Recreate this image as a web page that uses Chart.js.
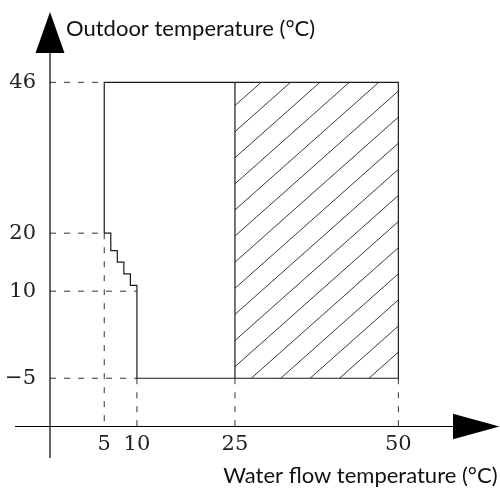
<!DOCTYPE html>
<html><head><meta charset="utf-8">
<script src="https://cdn.jsdelivr.net/npm/chart.js@4"></script>
<style>html,body{margin:0;padding:0;background:#fff}#wrap{width:500px;height:490px;position:relative}</style>
</head><body><div id="wrap"><canvas id="c"></canvas></div>
<script>
// ---- data ----
const xTickValues = [5, 10, 25, 50];
const xTickLabels = ['5', '10', '25', '50'];
const yTickValues = [-5, 10, 20, 46];
const yTickLabels = ['\u22125', '10', '20', '46'];
// operating envelope outline (stepped, horizontal-first)
const envelopeX = [5, 6, 7, 8, 9, 10, 50, 50, 5, 5];
const envelopeY = [20, 17, 15, 13, 11, -5, -5, 46, 46, 20];
// hatched sub-area (x range, y range)
const hatchX = [25, 50];
const hatchY = [-5, 46];
// dashed guides: horizontal guides end at these x values
const guideHY = [46, 20, 10, -5];
const guideHEndX = [5, 5, 10, 10];
// vertical guides start at these y values and run down to the x axis
const guideVX = [5, 10, 25, 50];
const guideVStartY = [20, -5, -5, -5];
const xTitle = 'Water flow temperature (°C)';
const yTitle = 'Outdoor temperature (°C)';

// ---- scale extents (axes cross below/left of the data) ----
const X_MIN = -3.3, X_MAX = 65.55;
const Y_MIN = -13.32, Y_MAX = 58.12;

const LINE = '#1a1a1a';

const datasets = [];
datasets.push({
  data: envelopeX.map((x, i) => ({x, y: envelopeY[i]})),
  stepped: 'before', borderColor: LINE, borderWidth: 1.2, pointRadius: 0, fill: false
});
datasets.push({
  data: hatchY.map(y => ({x: hatchX[0], y})),
  borderColor: LINE, borderWidth: 1.2, pointRadius: 0, fill: false
});
guideHY.forEach((y, i) => datasets.push({
  data: [{x: X_MIN, y}, {x: guideHEndX[i], y}],
  borderColor: '#333', borderWidth: 1, borderDash: [6, 8], pointRadius: 0, fill: false
}));
guideVX.forEach((x, i) => datasets.push({
  data: [{x, y: guideVStartY[i]}, {x, y: Y_MIN}],
  borderColor: '#333', borderWidth: 1, borderDash: [6, 8], pointRadius: 0, fill: false
}));

const HATCH_STEP = 4.5, HATCH_PHASE = 17;

const schematic = {
  id: 'schematic',
  beforeDatasetsDraw(chart) {
    const {ctx} = chart, xs = chart.scales.x, ys = chart.scales.y;
    const l = xs.getPixelForValue(hatchX[0]), r = xs.getPixelForValue(hatchX[1]);
    const t = ys.getPixelForValue(hatchY[1]), b = ys.getPixelForValue(hatchY[0]);
    ctx.save();
    ctx.beginPath(); ctx.rect(l, t, r - l, b - t); ctx.clip();
    ctx.strokeStyle = '#222'; ctx.lineWidth = 0.9;
    ctx.beginPath();
    for (let c = HATCH_PHASE; c > hatchY[0] - hatchX[1]; c -= HATCH_STEP) {
      ctx.moveTo(xs.getPixelForValue(hatchX[0]), ys.getPixelForValue(hatchX[0] + c));
      ctx.lineTo(xs.getPixelForValue(hatchX[1]), ys.getPixelForValue(hatchX[1] + c));
    }
    ctx.stroke();
    ctx.restore();
  },
  afterDraw(chart) {
    const {ctx, chartArea: a} = chart;
    const ax = a.left, ay = a.bottom;
    ctx.save();
    ctx.strokeStyle = '#000'; ctx.fillStyle = '#000'; ctx.lineWidth = 1.2;
    ctx.beginPath();
    ctx.moveTo(ax, a.top + 20); ctx.lineTo(ax, ay + 31.5);
    ctx.moveTo(ax - 35, ay); ctx.lineTo(a.right - 20, ay);
    ctx.stroke();
    // y arrow
    ctx.beginPath();
    ctx.moveTo(ax, a.top); ctx.lineTo(ax + 14.5, a.top + 41); ctx.lineTo(ax - 14.5, a.top + 41); ctx.closePath(); ctx.fill();
    // x arrow
    ctx.beginPath();
    ctx.moveTo(a.right - 0.5, ay); ctx.lineTo(a.right - 47, ay - 12.7); ctx.lineTo(a.right - 47, ay + 12.7); ctx.closePath(); ctx.fill();
    // titles
    ctx.fillStyle = '#111';
    ctx.font = '22px Lato';
    ctx.textBaseline = 'alphabetic';
    ctx.textAlign = 'left';
    ctx.fillText(yTitle, 66, 35.5);
    ctx.textAlign = 'right';
    ctx.fillText(xTitle, 497.5, 483);
    ctx.restore();
  }
};

const tickFont = {family: 'DejaVu Serif', size: 21};
const noPad = s => { s.paddingTop = 0; s.paddingBottom = 0; s.paddingLeft = 0; s.paddingRight = 0; };

new Chart(document.getElementById('c'), {
  type: 'scatter',
  data: {datasets},
  options: {
    responsive: true, maintainAspectRatio: false, animation: false,
    showLine: true,
    layout: {padding: {top: 12, left: 0, right: 0, bottom: 0}},
    plugins: {legend: {display: false}, tooltip: {enabled: false}, title: {display: false}},
    scales: {
      x: {
        type: 'linear', min: X_MIN, max: X_MAX,
        grid: {display: false}, border: {display: false},
        afterBuildTicks: s => { s.ticks = xTickValues.map(v => ({value: v})); },
        afterFit: s => { s.height = 63.5; noPad(s); },
        ticks: {autoSkip: false, maxRotation: 0, padding: -3, font: tickFont, color: '#222',
          callback: v => xTickLabels[xTickValues.indexOf(v)]}
      },
      y: {
        type: 'linear', min: Y_MIN, max: Y_MAX,
        grid: {display: false}, border: {display: false},
        afterBuildTicks: s => { s.ticks = yTickValues.map(v => ({value: v})); },
        afterFit: s => { s.width = 50; noPad(s); },
        ticks: {autoSkip: false, padding: 6, font: tickFont, color: '#222',
          callback: v => yTickLabels[yTickValues.indexOf(v)]}
      }
    }
  },
  plugins: [schematic]
});
</script>
</body></html>
